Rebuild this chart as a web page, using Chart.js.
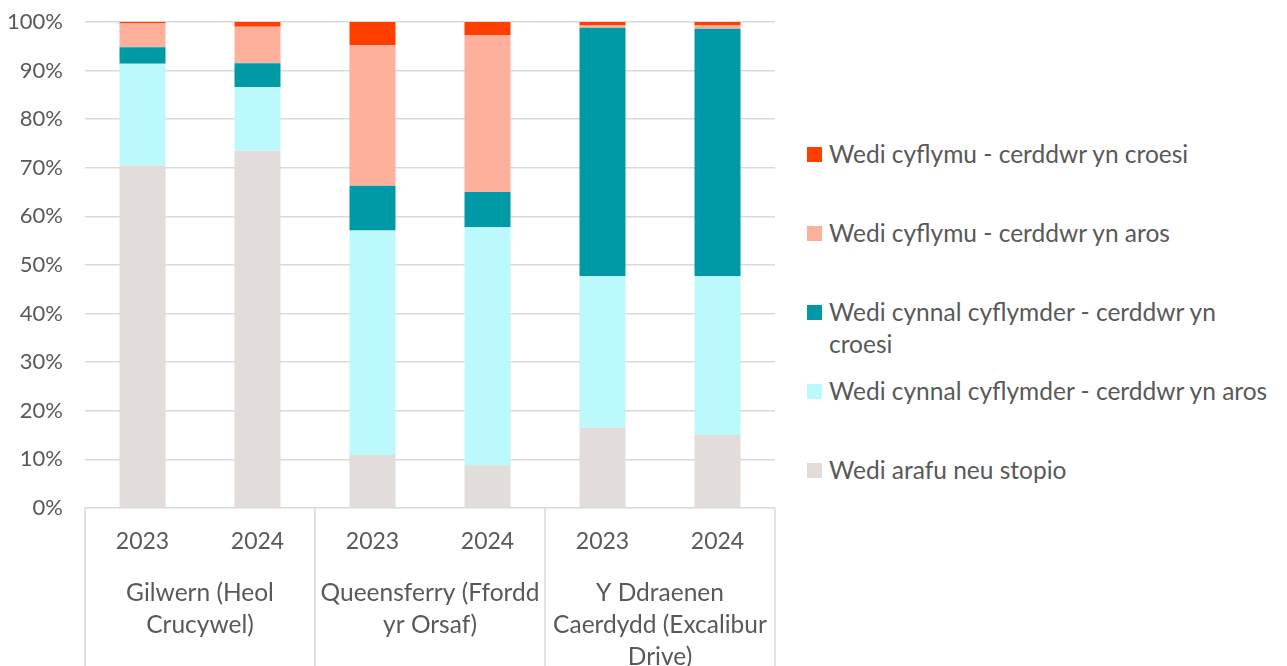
<!DOCTYPE html>
<html>
<head>
<meta charset="utf-8">
<script src="https://cdn.jsdelivr.net/npm/chart.js@4/dist/chart.umd.min.js"></script>
<style>
  html, body { margin: 0; padding: 0; background: #fff; }
  body { width: 1287px; height: 666px; position: relative; overflow: hidden; font-family: Lato, "Open Sans", sans-serif; }
  #wrap { position: absolute; left: 0; top: 0; width: 800px; height: 666px; }
  #legend { position: absolute; left: 807px; top: 138px; color: #595959; font-size: 24.5px; }
  .leg-item { height: 79px; display: flex; align-items: flex-start; }
  .leg-box { width: 15px; height: 15px; margin-top: 9px; margin-right: 7px; flex: none; }
  .leg-text { width: 448px; line-height: 32px; }
</style>
</head>
<body>
<div id="wrap"><canvas id="chart" width="800" height="666"></canvas></div>
<div id="legend"></div>
<script>
// years per bar, grouped by site
const years = ['2023', '2024', '2023', '2024', '2023', '2024'];
const sites = [['Gilwern (Heol', 'Crucywel)'], ['Queensferry (Ffordd', 'yr Orsaf)'], ['Y Ddraenen', 'Caerdydd (Excalibur', 'Drive)']];
const yTicks = [0, 10, 20, 30, 40, 50, 60, 70, 80, 90, 100];

// series (bottom to top), percentages
const seriesNames = [
  'Wedi arafu neu stopio',
  'Wedi cynnal cyflymder - cerddwr yn aros',
  'Wedi cynnal cyflymder - cerddwr yn croesi',
  'Wedi cyflymu - cerddwr yn aros',
  'Wedi cyflymu - cerddwr yn croesi'
];
const slowedStopped  = [70.4, 73.5, 10.9, 8.8, 16.5, 15.0];
const keptSpeedWaits = [21.0, 13.1, 46.2, 49.0, 31.2, 32.7];
const keptSpeedCross = [3.4, 4.9, 9.2, 7.2, 51.1, 50.9];
const spedUpWaits    = [4.9, 7.5, 28.9, 32.3, 0.5, 0.7];
const spedUpCross    = [0.3, 1.0, 4.8, 2.7, 0.7, 0.7];
const seriesColors = ['#E2DDDB', '#BBF9FC', '#009AA6', '#FFB09A', '#FF3F00'];
const seriesData = [slowedStopped, keptSpeedWaits, keptSpeedCross, spedUpWaits, spedUpCross];

const textColor = '#595959';
const gridColor = '#D9D9D9';
const font = { family: 'Lato, "Open Sans", sans-serif', size: 23 };

// group separator lines below the plot
const groupLines = {
  id: 'groupLines',
  afterDraw(chart) {
    const x = chart.scales.x, area = chart.chartArea, ctx = chart.ctx;
    const xs = [area.left];
    for (let i = 2; i < years.length; i += 2) {
      xs.push((x.getPixelForValue(i - 1) + x.getPixelForValue(i)) / 2);
    }
    xs.push(area.right);
    ctx.save();
    ctx.strokeStyle = gridColor;
    ctx.lineWidth = 1.5;
    xs.forEach(px => {
      ctx.beginPath();
      ctx.moveTo(px, area.bottom);
      ctx.lineTo(px, chart.height);
      ctx.stroke();
    });
    ctx.restore();
  }
};

new Chart(document.getElementById('chart'), {
  type: 'bar',
  data: {
    labels: years,
    datasets: seriesNames.map((name, i) => ({
      label: name,
      data: seriesData[i],
      backgroundColor: seriesColors[i],
      borderWidth: 0,
      barPercentage: 0.4,
      categoryPercentage: 1
    }))
  },
  options: {
    responsive: false,
    animation: false,
    layout: { padding: { top: 22, right: 25, left: 0, bottom: 0 } },
    plugins: { legend: { display: false }, tooltip: { enabled: false } },
    scales: {
      x: {
        stacked: true,
        grid: { display: false, drawTicks: false },
        border: { display: false },
        ticks: { color: textColor, font: font, padding: 20, maxRotation: 0, autoSkip: false },
        afterFit: s => { s.height = 60; s.paddingLeft = 0; s.paddingRight = 0; }
      },
      x2: {
        type: 'category',
        labels: sites,
        offset: true,
        position: 'bottom',
        grid: { display: false, drawTicks: false },
        border: { display: false },
        ticks: { color: textColor, font: Object.assign({}, font, { size: 24.5, lineHeight: '32px' }), padding: 9, maxRotation: 0, autoSkip: false },
        afterFit: s => { s.height = 98; s.paddingLeft = 0; s.paddingRight = 0; }
      },
      y: {
        stacked: true,
        min: 0,
        max: 100,
        afterBuildTicks: s => { s.ticks = yTicks.map(v => ({ value: v })); },
        grid: { color: gridColor, lineWidth: 1.5, drawTicks: false },
        border: { display: false },
        ticks: { color: textColor, font: Object.assign({}, font, { size: 22 }), padding: 22, callback: v => v + '%' },
        afterFit: s => { s.width = 85; s.paddingTop = 0; s.paddingBottom = 0; }
      }
    }
  },
  plugins: [groupLines]
});

// legend, top item = top of the stack
const legend = document.getElementById('legend');
seriesNames.map((n, i) => i).reverse().forEach(i => {
  const item = document.createElement('div');
  item.className = 'leg-item';
  item.innerHTML = '<div class="leg-box" style="background:' + seriesColors[i] + '"></div><div class="leg-text">' + seriesNames[i] + '</div>';
  legend.appendChild(item);
});
</script>
</body>
</html>
